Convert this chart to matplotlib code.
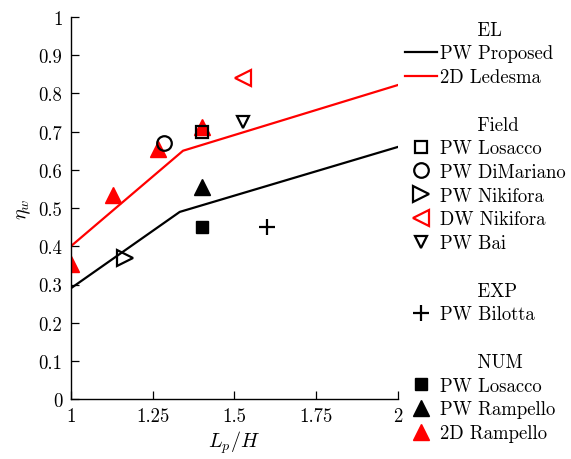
import matplotlib
matplotlib.use('Agg')
import matplotlib.pyplot as plt
from matplotlib.lines import Line2D

plt.rcParams['font.family'] = 'cmr10'
plt.rcParams['mathtext.fontset'] = 'cm'
plt.rcParams['axes.unicode_minus'] = False
plt.rcParams['font.size'] = 13.5

# --- Empirical laws (piecewise linear) ---
el_pw_x = [1.0, 1.333, 2.0]
el_pw_y = [0.29, 0.49, 0.66]
el_2d_x = [1.0, 1.343, 2.0]
el_2d_y = [0.40, 0.65, 0.822]

# --- Field data ---
field_pw_losacco = ([1.40], [0.70])
field_pw_dimariano = ([1.285], [0.67])
field_pw_nikifora = ([1.165], [0.37])
field_dw_nikifora = ([1.525], [0.84])
field_pw_bai = ([1.525], [0.725])

# --- Experimental ---
exp_pw_bilotta = ([1.60], [0.45])

# --- Numerical ---
num_pw_losacco = ([1.40], [0.45])
num_pw_rampello = ([1.40], [0.555])
num_2d_rampello = ([1.0, 1.13, 1.265, 1.40], [0.353, 0.534, 0.655, 0.712])

x_ticks = [1, 1.25, 1.5, 1.75, 2]
x_tick_labels = ['1', '1.25', '1.5', '1.75', '2']
y_ticks = [0, 0.1, 0.2, 0.3, 0.4, 0.5, 0.6, 0.7, 0.8, 0.9, 1]
y_tick_labels = ['0', '0.1', '0.2', '0.3', '0.4', '0.5', '0.6', '0.7', '0.8', '0.9', '1']

fig = plt.figure(figsize=(5.71, 4.60), dpi=100)
ax = fig.add_axes([0.124, 0.130, 0.573, 0.831])

lw = 1.6
mew = 1.6

ax.plot(el_pw_x, el_pw_y, color='black', lw=lw)
ax.plot(el_2d_x, el_2d_y, color='#ff0000', lw=lw)

styles = {
    'num_2d_rampello': dict(marker='^', ms=11.5, color='#ff0000', ls='none'),
    'num_pw_losacco': dict(marker='s', ms=9, color='black', ls='none'),
    'num_pw_rampello': dict(marker='^', ms=11.5, color='black', ls='none'),
    'field_pw_losacco': dict(marker='s', ms=9, mfc='none', mec='black', mew=mew, ls='none'),
    'field_pw_dimariano': dict(marker='o', ms=10.5, mfc='none', mec='black', mew=mew, ls='none'),
    'field_pw_nikifora': dict(marker='>', ms=11.5, mfc='none', mec='black', mew=mew, ls='none'),
    'field_dw_nikifora': dict(marker='<', ms=11.5, mfc='none', mec='#ff0000', mew=mew, ls='none'),
    'field_pw_bai': dict(marker='v', ms=8.5, mfc='none', mec='black', mew=mew, ls='none'),
    'exp_pw_bilotta': dict(marker='+', ms=11, mec='black', mew=mew, ls='none'),
}

ax.plot(*num_2d_rampello, **styles['num_2d_rampello'])
ax.plot(*num_pw_losacco, **styles['num_pw_losacco'])
ax.plot(*num_pw_rampello, **styles['num_pw_rampello'])
ax.plot(*field_pw_losacco, **styles['field_pw_losacco'])
ax.plot(*field_pw_dimariano, **styles['field_pw_dimariano'])
ax.plot(*field_pw_nikifora, **styles['field_pw_nikifora'])
ax.plot(*field_dw_nikifora, **styles['field_dw_nikifora'])
ax.plot(*field_pw_bai, **styles['field_pw_bai'])
ax.plot(*exp_pw_bilotta, **styles['exp_pw_bilotta'])

ax.set_xlim(1, 2)
ax.set_ylim(0, 1)
ax.set_xticks(x_ticks)
ax.set_xticklabels(x_tick_labels)
ax.set_yticks(y_ticks)
ax.set_yticklabels(y_tick_labels)
ax.tick_params(direction='in', length=5.5, width=0.9, pad=6)
ax.spines['top'].set_visible(False)
ax.spines['right'].set_visible(False)
ax.spines['left'].set_linewidth(1.0)
ax.spines['bottom'].set_linewidth(1.0)
ax.set_xlabel('$L_p/H$', labelpad=2, fontsize=14.5)
ax.set_ylabel(r'$\eta_w$', labelpad=4, fontsize=14.5)

# legend with section headers
blank = Line2D([], [], ls='none', marker='none')
hdr = '      '
handles = [
    blank,
    Line2D([], [], color='black', lw=lw),
    Line2D([], [], color='#ff0000', lw=lw),
    blank,
    blank,
    Line2D([], [], **styles['field_pw_losacco']),
    Line2D([], [], **styles['field_pw_dimariano']),
    Line2D([], [], **styles['field_pw_nikifora']),
    Line2D([], [], **styles['field_dw_nikifora']),
    Line2D([], [], **styles['field_pw_bai']),
    blank,
    blank,
    Line2D([], [], **styles['exp_pw_bilotta']),
    blank,
    blank,
    Line2D([], [], **styles['num_pw_losacco']),
    Line2D([], [], **styles['num_pw_rampello']),
    Line2D([], [], **styles['num_2d_rampello']),
]
labels = [
    hdr + 'EL', 'PW Proposed', '2D Ledesma', ' ',
    hdr + 'Field', 'PW Losacco', 'PW DiMariano', 'PW Nikifora', 'DW Nikifora', 'PW Bai', ' ',
    hdr + 'EXP', 'PW Bilotta', ' ',
    hdr + 'NUM', 'PW Losacco', 'PW Rampello', '2D Rampello',
]
fig.legend(handles, labels, loc='upper left', bbox_to_anchor=(0.709, 0.953),
           frameon=False, borderpad=0, borderaxespad=0, handlelength=1.7,
           handletextpad=0.15, labelspacing=0.31)

fig.savefig('out.png', dpi=100)
